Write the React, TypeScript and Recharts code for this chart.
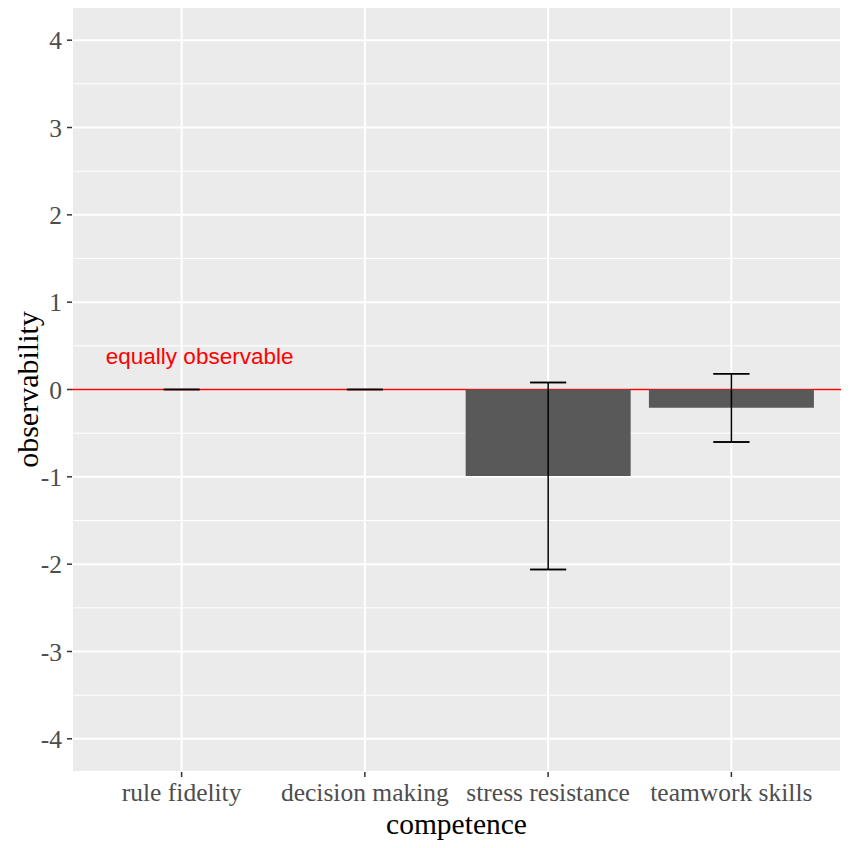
import React from 'react';
import {
  ComposedChart,
  Bar,
  Scatter,
  XAxis,
  YAxis,
  CartesianGrid,
  ErrorBar,
  ReferenceDot,
} from 'recharts';

const competences = ['rule fidelity', 'decision making', 'stress resistance', 'teamwork skills'];
const observability = [0, 0, -0.99, -0.21];
const errors = [0, 0, 1.07, 0.39];
const yTicks = [-4, -3, -2, -1, 0, 1, 2, 3, 4];
const yMinorTicks = [-3.5, -2.5, -1.5, -0.5, 0.5, 1.5, 2.5, 3.5];
const referenceLevel = [0];

const data = competences.map((name, i) => ({
  name,
  value: observability[i],
  err: errors[i],
  lo: observability[i] - errors[i],
  hi: observability[i] + errors[i],
}));

const serif = '"Liberation Serif", "Times New Roman", serif';
const sans = '"Liberation Sans", Arial, sans-serif';

const YTitle = ({ viewBox }: any) => {
  const cx = viewBox.x + 27;
  const cy = viewBox.y + viewBox.height / 2;
  return (
    <text
      x={cx}
      y={cy}
      transform={`rotate(-90, ${cx}, ${cy})`}
      textAnchor="middle"
      dominantBaseline="central"
      fontFamily={serif}
      fontSize={30}
      fill="#000"
    >
      observability
    </text>
  );
};

const XTitle = ({ viewBox }: any) => (
  <text
    x={viewBox.x + viewBox.width / 2}
    y={viewBox.y + 62}
    textAnchor="middle"
    fontFamily={serif}
    fontSize={29.5}
    fill="#000"
  >
    competence
  </text>
);

// error bar cap (also drawn where the error is zero, which ErrorBar skips)
const Cap = (props: any) => {
  if (props.cx == null || props.cy == null) return null;
  return (
    <line
      x1={props.cx - 18}
      x2={props.cx + 18}
      y1={props.cy}
      y2={props.cy}
      stroke="#000000"
      strokeWidth={1.5}
    />
  );
};

// red annotation text placed via the chart scales
const Annotation = (props: any) => (
  <text
    x={props.cx + 18}
    y={props.cy}
    textAnchor="middle"
    dominantBaseline="central"
    fontFamily={sans}
    fontSize={22.5}
    fill="#FF0000"
  >
    equally observable
  </text>
);

export default function App() {
  return (
    <div style={{ position: 'absolute', left: 0, top: 0, background: '#fff' }}>
      <ComposedChart
        width={851}
        height={848}
        data={data}
        margin={{ top: 7, right: 10, bottom: 0, left: 0 }}
        barCategoryGap="5%"
      >
        <CartesianGrid
          horizontalValues={yMinorTicks}
          vertical={false}
          stroke="#FFFFFF"
          strokeWidth={1}
          fill="#EBEBEB"
          fillOpacity={1}
        />
        <CartesianGrid stroke="#FFFFFF" strokeWidth={2} />
        {/* red "equally observable" line at zero, kept beneath the error bars */}
        <CartesianGrid
          horizontalValues={referenceLevel}
          vertical={false}
          stroke="#FF0000"
          strokeWidth={1.5}
        />
        <XAxis
          dataKey="name"
          type="category"
          height={76}
          padding={{ left: 18, right: 18 }}
          axisLine={false}
          tickSize={5}
          tickMargin={6}
          tickLine={{ stroke: '#333333', strokeWidth: 1.5 }}
          tick={{ fill: '#4D4D4D', fontFamily: serif, fontSize: 25.5 }}
          interval={0}
          label={<XTitle />}
        />
        <YAxis
          type="number"
          domain={[-4.38, 4.38]}
          ticks={yTicks}
          width={72}
          axisLine={false}
          tickSize={5}
          tickMargin={5}
          tickLine={{ stroke: '#333333', strokeWidth: 1.5 }}
          tick={{ fill: '#4D4D4D', fontFamily: serif, fontSize: 25.5 }}
          allowDataOverflow
          label={<YTitle />}
        />
        <Bar dataKey="value" fill="#595959" isAnimationActive={false}>
          <ErrorBar
            dataKey="err"
            width={18}
            stroke="#000000"
            strokeWidth={1.5}
            direction="y"
            isAnimationActive={false}
          />
        </Bar>
        <Scatter dataKey="lo" shape={<Cap />} isAnimationActive={false} />
        <Scatter dataKey="hi" shape={<Cap />} isAnimationActive={false} />
        <ReferenceDot
          x="rule fidelity"
          y={0.38}
          r={0}
          shape={<Annotation />}
          ifOverflow="visible"
        />
      </ComposedChart>
    </div>
  );
}
